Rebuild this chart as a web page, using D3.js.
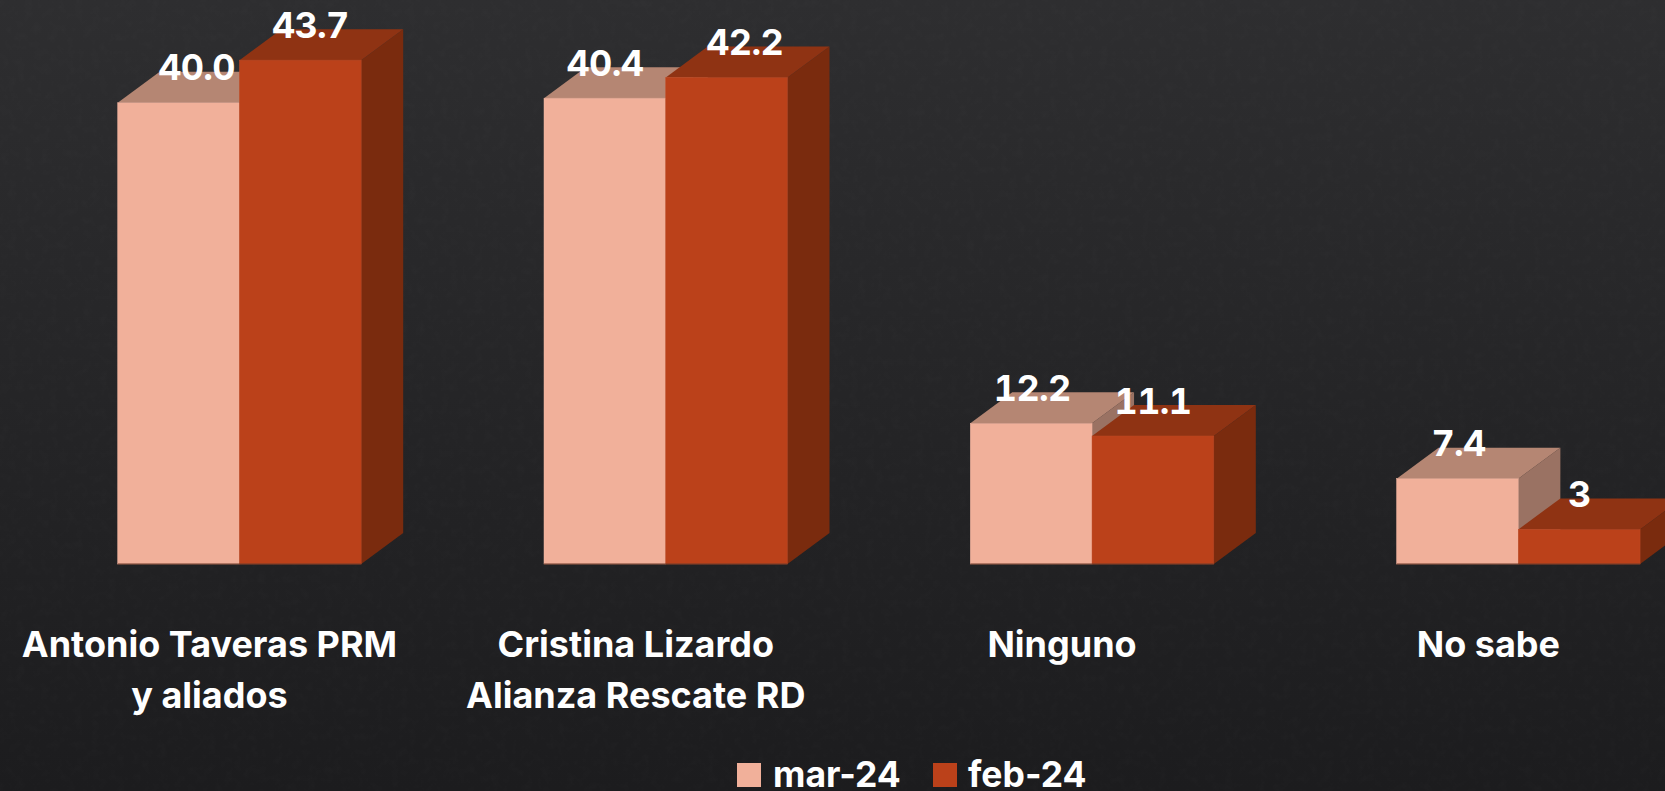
<!DOCTYPE html>
<html>
<head>
<meta charset="utf-8">
<script src="https://cdn.jsdelivr.net/npm/d3@7/dist/d3.min.js"></script>
<style>
html,body{margin:0;padding:0;background:#1d1d1f;overflow:hidden}
svg{display:block}
text{font-family:Inter,"Noto Sans",sans-serif;font-weight:700;fill:#fff}
.val{font-feature-settings:"tnum" 1;letter-spacing:-0.7px}
</style>
</head>
<body>
<svg id="chart" width="1665" height="791"></svg>
<script>
const categories = ["Antonio Taveras PRM|y aliados", "Cristina Lizardo|Alianza Rescate RD", "Ninguno", "No sabe"];
const seriesNames = ["mar-24", "feb-24"];
const mar24 = [40.0, 40.4, 12.2, 7.4];
const feb24 = [43.7, 42.2, 11.1, 3];
const marLabels = ["40.0", "40.4", "12.2", "7.4"];
const febLabels = ["43.7", "42.2", "11.1", "3"];
const marNudge = [18, 0, 1, 1];
const febNudge = [10, 18, 0, 0];

const W = 1665, H = 791, baseY = 564, depthX = 42, depthY = 31, groupW = 243.5;
const svg = d3.select("#chart");
const defs = svg.append("defs");
const grad = defs.append("linearGradient").attr("id","bg").attr("x1",0).attr("x2",0).attr("y1",0).attr("y2",1);
grad.append("stop").attr("offset",0).attr("stop-color","#2e2e30");
grad.append("stop").attr("offset",1).attr("stop-color","#1c1c1e");
const noise = defs.append("filter").attr("id","noise").attr("x",0).attr("y",0).attr("width","100%").attr("height","100%");
noise.append("feTurbulence").attr("type","fractalNoise").attr("baseFrequency",0.12).attr("numOctaves",3).attr("seed",4);
noise.append("feColorMatrix").attr("type","matrix").attr("values","0 0 0 0 1  0 0 0 0 1  0 0 0 0 1  0.5 0 0 0 -0.2");
svg.append("rect").attr("width",W).attr("height",H).attr("fill","url(#bg)");
svg.append("rect").attr("width",W).attr("height",H).attr("filter","url(#noise)").attr("opacity",0.05);

const x0 = d3.scaleBand().domain(categories).range([26.3, 1731.5]);
const x1 = d3.scaleBand().domain(seriesNames).range([0, groupW]);
const y = d3.scaleLinear().domain([0, 50]).range([baseY, baseY - 50 * 11.53]);
const groupLeft = c => x0(c) + (x0.bandwidth() - groupW) / 2;

const styles = [
  {values: mar24, labels: marLabels, nudge: marNudge, front: "#f1b09a", top: "#b58673", side: "#9a7263", edge: "#f3b6a2"},
  {values: feb24, labels: febLabels, nudge: febNudge, front: "#bb411a", top: "#8f3313", side: "#7a2b0e", edge: "#c04a25"}
];

const poly = pts => pts.map(p => p.join(",")).join(" ");

categories.forEach((c, i) => {
  const g = svg.append("g");
  seriesNames.forEach((s, k) => {
    const st = styles[k];
    const l = groupLeft(c) + x1(s), r = l + x1.bandwidth(), t = y(st.values[i]);
    g.append("polygon").attr("fill", st.side)
      .attr("points", poly([[r,baseY],[r+depthX,baseY-depthY],[r+depthX,t-depthY],[r,t]]));
    g.append("polygon").attr("fill", st.top)
      .attr("points", poly([[l,t],[l+depthX,t-depthY],[r+depthX,t-depthY],[r,t]]));
    g.append("rect").attr("x", l).attr("y", t).attr("width", r-l).attr("height", baseY-t)
      .attr("fill", st.front).attr("stroke", st.edge).attr("stroke-width", 0.5);
  });
  g.append("line").attr("x1", groupLeft(c)).attr("x2", groupLeft(c)+groupW)
    .attr("y1", baseY).attr("y2", baseY).attr("stroke","#6e3a28").attr("stroke-width",1.2);
});

// Data labels above everything
categories.forEach((c, i) => {
  seriesNames.forEach((s, k) => {
    const st = styles[k];
    svg.append("text").attr("class","val")
      .attr("x", groupLeft(c) + x1(s) + x1.bandwidth()/2 + st.nudge[i])
      .attr("y", y(st.values[i]) - 22.5)
      .attr("text-anchor","middle").attr("font-size",36).text(st.labels[i]);
  });
});

// Category axis
const axis = svg.append("g").attr("transform", `translate(-30,${baseY})`)
  .call(d3.axisBottom(x0).tickSize(0).tickFormat(""));
axis.select(".domain").remove();
axis.selectAll(".tick").each(function(c){
  const t = d3.select(this).select("text").attr("y",0).attr("dy",null).style("font-size","36px");
  t.text(null);
  c.split("|").forEach((line, n) => {
    t.append("tspan").attr("x",0).attr("y",93 + n*51).text(line);
  });
});

// Legend
const legendSwatch = [737, 933], legendText = [773, 968];
seriesNames.forEach((s, k) => {
  svg.append("rect").attr("x",legendSwatch[k]).attr("y",763).attr("width",24).attr("height",24).attr("fill",styles[k].front);
  svg.append("text").attr("x",legendText[k]).attr("y",787).attr("font-size",35.5).text(s);
});
</script>
</body>
</html>
